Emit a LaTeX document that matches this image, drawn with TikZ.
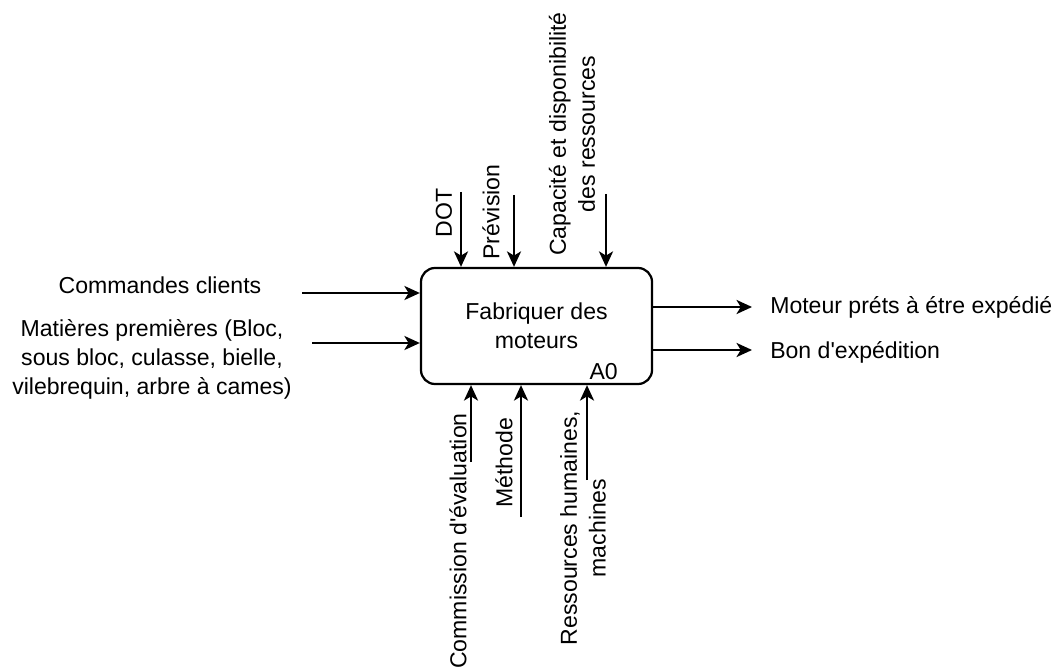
\documentclass[tikz,border=0pt]{standalone}
\usepackage{fontspec}
\setmainfont{Liberation Sans}
\usetikzlibrary{arrows.meta,positioning}

\begin{document}
\begin{tikzpicture}[x=0.025cm,y=-0.025cm,
  every node/.style={font=\fontsize{16.4pt}{20.6pt}\selectfont,inner sep=0pt},
  bloc/.style={draw,line width=1.6pt,rounded corners=10pt,minimum width=5.775cm,minimum height=2.9cm,align=center},
  fleche/.style={line width=1.6pt,-{Stealth[length=11pt,width=10pt,inset=3pt]}},
  vert/.style={rotate=90,align=center}]
\useasboundingbox (0,0) rectangle (1052,669);
% fonction
\node (A0) [bloc] at (536.5,326) {Fabriquer des\\moteurs};
\node (num) [anchor=base east] at (618,379) {A0};
% entrees
\node (cmd) at (160,285) {Commandes clients};
\node (mat) [align=center] at (152,359) {Matières premières (Bloc,\\sous bloc, culasse, bielle,\\vilebrequin, arbre à cames)};
\coordinate (cmdA) at (302,293);
\coordinate (matA) at (312,343);
\draw[fleche] (cmdA) -- (cmdA -| A0.west);
\draw[fleche] (matA) -- (matA -| A0.west);
% controles
\node (dot) [vert] at (444,213) {DOT};
\node (prev) [vert] at (491,212) {Prévision};
\node (cap) [vert] at (572,134) {Capacité et disponibilité\\des ressources};
\coordinate (dotA) at (461,192);
\coordinate (prevA) at (514,195);
\coordinate (capA) at (606,194);
\draw[fleche] (dotA) -- (dotA |- A0.north);
\draw[fleche] (prevA) -- (prevA |- A0.north);
\draw[fleche] (capA) -- (capA |- A0.north);
% mecanismes
\node (com) [vert] at (458,541) {Commission d\textquotesingle évaluation};
\node (meth) [vert] at (504,463) {Méthode};
\node (res) [vert] at (583,528) {Ressources humaines,\\machines};
\coordinate (comA) at (471,462);
\coordinate (methA) at (521,517);
\coordinate (resA) at (587,480);
\draw[fleche] (comA) -- (comA |- A0.south);
\draw[fleche] (methA) -- (methA |- A0.south);
\draw[fleche] (resA) -- (resA |- A0.south);
% sorties
\node (mot) [anchor=west] at (770,307) {Moteur préts à étre expédié};
\node (bon) [anchor=west] at (770,352) {Bon d\textquotesingle expédition};
\coordinate (motA) at (752,307);
\coordinate (bonA) at (752,350);
\draw[fleche] (motA -| A0.east) -- (motA);
\draw[fleche] (bonA -| A0.east) -- (bonA);
\end{tikzpicture}
\end{document}
